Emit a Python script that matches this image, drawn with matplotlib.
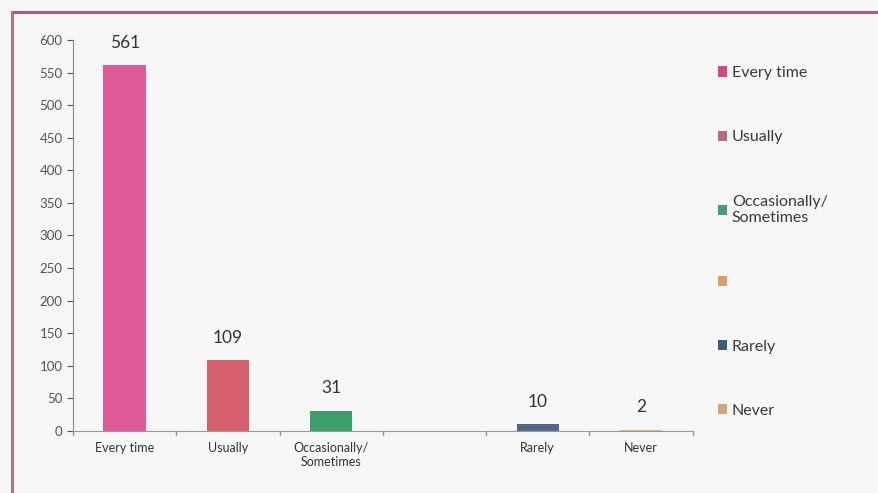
import matplotlib.pyplot as plt
from matplotlib.lines import Line2D
from matplotlib.patches import Patch

plt.rcParams['font.family'] = ['Lato', 'DejaVu Sans']

# datos
categorias = ['Every time', 'Usually', 'Occasionally/\nSometimes', '', 'Rarely', 'Never']
valores = [561, 109, 31, 0, 10, 2]
etiquetas = ['561', '109', '31', '', '10', '2']
colores = ['#df5a98', '#d65f6c', '#3f9f6c', '#d9a97a', '#4d6888', '#ddb487']
colores_leyenda = ['#d04a86', '#b86a82', '#4a9a80', '#d9a06c', '#3f5c7e', '#d4a57c']

fig = plt.figure(figsize=(8.79, 4.93), dpi=100, facecolor='#f7f7f7')
ax = fig.add_axes([0.083, 0.126, 0.705, 0.793])
ax.set_facecolor('#f7f7f7')

x = list(range(len(categorias)))
ax.bar(x, valores, width=0.41, color=colores, edgecolor='none')

for xi, v, t in zip(x, valores, etiquetas):
    if t:
        ax.text(xi, v + 22, t, ha='center', va='bottom', fontsize=12.5, color='#333333')

ax.set_xlim(-0.5, 5.5)
ax.set_ylim(0, 600)
ax.set_yticks(range(0, 601, 50))
ax.set_xticks(x)
ax.set_xticklabels(categorias, fontsize=9, color='#333333')
ax.tick_params(axis='y', labelsize=9.5, colors='#555555', length=4)
ax.tick_params(axis='x', length=0, pad=8)
for xb in [i - 0.5 for i in range(len(categorias) + 1)]:
    ax.plot([xb, xb], [0, -6], color='#999999', lw=1, clip_on=False)

for lado in ['top', 'right']:
    ax.spines[lado].set_visible(False)
ax.spines['left'].set_color('#888888')
ax.spines['bottom'].set_color('#999999')

# leyenda a la derecha
handles = [Patch(facecolor=c, edgecolor='none') for c in colores_leyenda]
etiq_ley = ['Every time', 'Usually', 'Occasionally/\nSometimes', '', 'Rarely', 'Never']
fig.legend(handles, etiq_ley, loc='upper left', bbox_to_anchor=(0.8, 0.895),
           frameon=False, fontsize=11.5, labelspacing=3.15,
           handlelength=0.6, handleheight=0.6, handletextpad=0.3,
           labelcolor='#3a3a3a')

# marco del grafico
fig.add_artist(Line2D([0.014, 1.0], [0.976, 0.976], color='#a06078', lw=2.2))
fig.add_artist(Line2D([0.014, 0.014], [0.0, 0.976], color='#b07088', lw=2.2))

plt.savefig('out.png', dpi=100, facecolor=fig.get_facecolor())
